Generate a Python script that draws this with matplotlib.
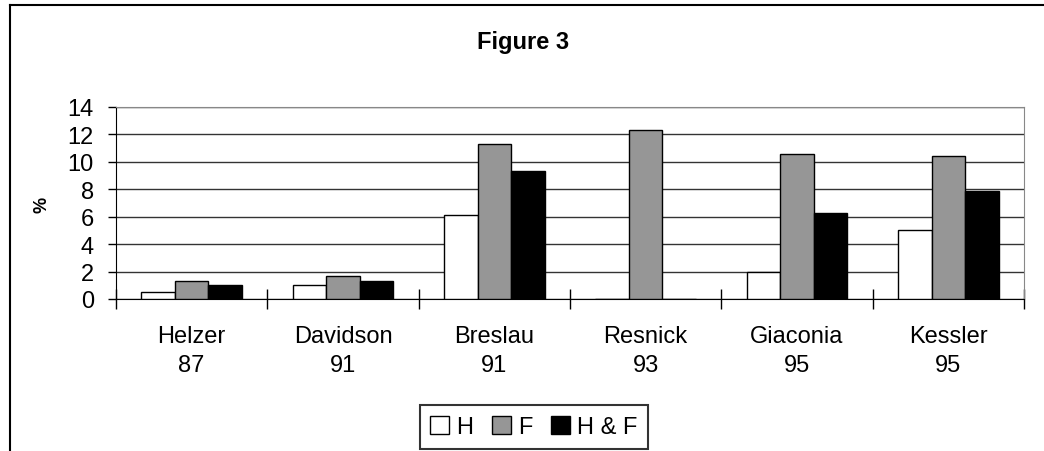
import matplotlib.pyplot as plt
from matplotlib.lines import Line2D
import numpy as np

plt.rcParams['font.family'] = ['Liberation Sans', 'DejaVu Sans']

studies = ['Helzer\n87', 'Davidson\n91', 'Breslau\n91', 'Resnick\n93', 'Giaconia\n95', 'Kessler\n95']
h_vals = [0.5, 1.0, 6.1, 0.0, 2.0, 5.0]
f_vals = [1.3, 1.7, 11.3, 12.3, 10.6, 10.4]
hf_vals = [1.0, 1.3, 9.3, 0.0, 6.3, 7.9]
yticks = [0, 2, 4, 6, 8, 10, 12, 14]

fig = plt.figure(figsize=(10.44, 4.52), dpi=100)
ax = fig.add_axes([116 / 1044, 1 - 300 / 452, (1024 - 116) / 1044, (300 - 108) / 452])

x = np.arange(len(studies))
w = 0.221
ax.bar(x - w, h_vals, w, color='white', edgecolor='black', linewidth=1, label='H', zorder=3)
ax.bar(x, f_vals, w, color='#969696', edgecolor='black', linewidth=1, label='F', zorder=3)
ax.bar(x + w, hf_vals, w, color='black', edgecolor='black', linewidth=1, label='H & F', zorder=3)

ax.set_xlim(-0.5, len(studies) - 0.5)
ax.set_ylim(0, 14)
ax.set_yticks(yticks)
ax.yaxis.grid(True, color='#333333', linewidth=1)
ax.set_axisbelow(True)

# category separators as ticks on the x axis
ax.set_xticks(np.arange(len(studies) + 1) - 0.5, minor=False)
ax.set_xticklabels([])
ax.tick_params(axis='x', direction='inout', length=14, width=1, color='black')
ax.set_xticks(x, minor=True)
ax.set_xticklabels(studies, minor=True, fontsize=17, linespacing=1.4)
ax.tick_params(axis='x', which='minor', length=0, pad=19)
ax.tick_params(axis='y', direction='out', length=6, width=1, labelsize=17, pad=10)

ax.spines['left'].set_color('black')
ax.spines['bottom'].set_color('black')
ax.spines['top'].set_color('#888888')
ax.spines['right'].set_color('#888888')

fig.text(42 / 1044, 1 - 205 / 452, '%', rotation=90, ha='center', va='center',
         fontsize=13, fontweight='bold')

fig.text(523 / 1044, 1 - 42 / 452, 'Figure 3', ha='center', va='center',
         fontsize=17, fontweight='bold')

fig.legend(loc='center', bbox_to_anchor=(534 / 1044, 1 - 428 / 452), ncol=3,
           fontsize=17, frameon=True, fancybox=False, edgecolor='black',
           handlelength=0.8, handleheight=0.8, handletextpad=0.3,
           columnspacing=0.8, borderpad=0.45)
fig.legends[0].get_frame().set_linewidth(1.5)

# chart border (left and top edges)
fig.add_artist(Line2D([9.5 / 1044, 9.5 / 1044], [0, 1 - 6 / 452], color='black', linewidth=1.5))
fig.add_artist(Line2D([9.5 / 1044, 1], [1 - 6 / 452, 1 - 6 / 452], color='black', linewidth=1.5))

fig.savefig('out.png', dpi=100)
